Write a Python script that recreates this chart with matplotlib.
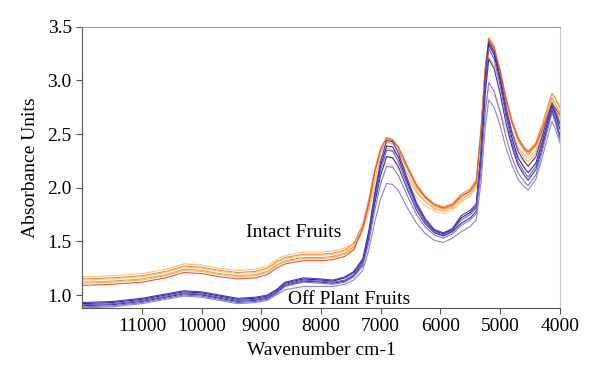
import matplotlib
matplotlib.use("Agg")
import matplotlib.pyplot as plt

plt.rcParams['font.family'] = ['Liberation Serif', 'DejaVu Serif']

# wavenumber grid (cm-1) shared by all spectra
wavenumber = [12000, 11500, 11000, 10600, 10300, 10000, 9700, 9400, 9100, 8900,
              8750, 8600, 8300, 8000, 7800, 7600, 7450, 7300, 7200, 7100,
              7000, 6900, 6800, 6700, 6550, 6400, 6250, 6100, 5950, 5800,
              5650, 5500, 5400, 5320, 5250, 5190, 5100, 5000, 4900, 4800,
              4700, 4600, 4530, 4400, 4300, 4200, 4130, 4070, 4000]

# intact fruits (orange / red)
intact_1 = [1.17, 1.18, 1.20, 1.24, 1.29, 1.28, 1.25, 1.23, 1.24, 1.27,
            1.33, 1.37, 1.40, 1.40, 1.41, 1.44, 1.48, 1.63, 1.82, 2.05,
            2.21, 2.29, 2.27, 2.22, 2.09, 1.95, 1.87, 1.81, 1.79, 1.82,
            1.90, 1.95, 2.03, 2.46, 2.97, 3.22, 3.14, 2.95, 2.72, 2.53,
            2.38, 2.31, 2.27, 2.35, 2.52, 2.70, 2.82, 2.74, 2.62]
intact_2 = [1.15, 1.16, 1.18, 1.22, 1.27, 1.26, 1.23, 1.21, 1.22, 1.25,
            1.31, 1.35, 1.38, 1.38, 1.39, 1.42, 1.48, 1.66, 1.89, 2.17,
            2.37, 2.47, 2.45, 2.38, 2.20, 2.03, 1.92, 1.85, 1.82, 1.85,
            1.94, 1.99, 2.07, 2.55, 3.12, 3.40, 3.32, 3.10, 2.84, 2.63,
            2.47, 2.38, 2.34, 2.42, 2.58, 2.76, 2.88, 2.83, 2.75]
intact_3 = [1.14, 1.15, 1.17, 1.21, 1.26, 1.25, 1.22, 1.20, 1.21, 1.24,
            1.30, 1.34, 1.37, 1.37, 1.38, 1.41, 1.45, 1.60, 1.78, 2.00,
            2.15, 2.23, 2.21, 2.17, 2.04, 1.91, 1.83, 1.78, 1.76, 1.79,
            1.87, 1.92, 2.00, 2.32, 2.72, 2.92, 2.86, 2.72, 2.54, 2.40,
            2.30, 2.24, 2.21, 2.29, 2.46, 2.64, 2.76, 2.69, 2.58]
intact_4 = [1.12, 1.13, 1.15, 1.19, 1.24, 1.23, 1.20, 1.18, 1.19, 1.22,
            1.28, 1.32, 1.35, 1.35, 1.36, 1.39, 1.45, 1.63, 1.86, 2.14,
            2.33, 2.43, 2.41, 2.34, 2.17, 2.00, 1.90, 1.83, 1.80, 1.83,
            1.92, 1.97, 2.05, 2.53, 3.09, 3.37, 3.29, 3.07, 2.81, 2.60,
            2.44, 2.35, 2.31, 2.39, 2.55, 2.72, 2.84, 2.78, 2.70]
intact_5 = [1.11, 1.12, 1.14, 1.18, 1.23, 1.22, 1.19, 1.17, 1.18, 1.21,
            1.27, 1.31, 1.34, 1.34, 1.35, 1.38, 1.43, 1.61, 1.82, 2.09,
            2.28, 2.37, 2.35, 2.29, 2.13, 1.97, 1.87, 1.80, 1.78, 1.81,
            1.89, 1.94, 2.02, 2.50, 3.05, 3.33, 3.24, 3.02, 2.75, 2.53,
            2.37, 2.28, 2.24, 2.32, 2.49, 2.67, 2.79, 2.74, 2.66]
intact_6 = [1.09, 1.10, 1.12, 1.16, 1.21, 1.20, 1.17, 1.15, 1.16, 1.19,
            1.25, 1.29, 1.32, 1.32, 1.33, 1.36, 1.42, 1.62, 1.85, 2.15,
            2.36, 2.46, 2.44, 2.37, 2.19, 2.02, 1.91, 1.84, 1.81, 1.84,
            1.92, 1.97, 2.05, 2.53, 3.10, 3.38, 3.30, 3.09, 2.82, 2.61,
            2.46, 2.37, 2.33, 2.40, 2.53, 2.68, 2.78, 2.74, 2.68]

# off plant fruits (blue / purple)
off_1 = [0.93, 0.94, 0.97, 1.01, 1.04, 1.03, 1.00, 0.97, 0.98, 1.00,
         1.05, 1.12, 1.16, 1.15, 1.14, 1.17, 1.22, 1.34, 1.60, 1.95,
         2.25, 2.44, 2.43, 2.32, 2.08, 1.86, 1.71, 1.61, 1.58, 1.62,
         1.74, 1.79, 1.85, 2.34, 3.01, 3.36, 3.27, 3.04, 2.75, 2.51,
         2.34, 2.25, 2.20, 2.29, 2.47, 2.66, 2.79, 2.71, 2.60]
off_2 = [0.92, 0.93, 0.96, 1.00, 1.03, 1.02, 0.99, 0.96, 0.97, 0.99,
         1.04, 1.11, 1.15, 1.14, 1.13, 1.16, 1.21, 1.32, 1.57, 1.92,
         2.21, 2.39, 2.38, 2.28, 2.05, 1.84, 1.69, 1.60, 1.57, 1.61,
         1.72, 1.77, 1.83, 2.32, 2.99, 3.34, 3.24, 3.00, 2.70, 2.46,
         2.28, 2.19, 2.14, 2.23, 2.42, 2.62, 2.76, 2.68, 2.55]
off_3 = [0.91, 0.92, 0.95, 0.99, 1.02, 1.01, 0.98, 0.95, 0.96, 0.98,
         1.03, 1.10, 1.14, 1.13, 1.12, 1.14, 1.19, 1.31, 1.55, 1.89,
         2.17, 2.35, 2.34, 2.24, 2.02, 1.82, 1.68, 1.59, 1.56, 1.60,
         1.70, 1.75, 1.81, 2.29, 2.96, 3.30, 3.20, 2.96, 2.66, 2.42,
         2.24, 2.15, 2.10, 2.20, 2.39, 2.60, 2.74, 2.64, 2.50]
off_4 = [0.90, 0.91, 0.94, 0.98, 1.01, 1.00, 0.97, 0.94, 0.95, 0.97,
         1.02, 1.09, 1.13, 1.12, 1.11, 1.13, 1.18, 1.29, 1.53, 1.85,
         2.12, 2.29, 2.28, 2.19, 1.98, 1.79, 1.66, 1.58, 1.55, 1.59,
         1.67, 1.72, 1.78, 2.24, 2.87, 3.20, 3.11, 2.88, 2.60, 2.38,
         2.21, 2.12, 2.07, 2.17, 2.36, 2.58, 2.72, 2.62, 2.47]
off_5 = [0.89, 0.90, 0.93, 0.97, 1.00, 0.99, 0.96, 0.93, 0.94, 0.96,
         1.01, 1.08, 1.12, 1.11, 1.10, 1.12, 1.17, 1.27, 1.49, 1.79,
         2.04, 2.20, 2.19, 2.11, 1.92, 1.75, 1.63, 1.56, 1.53, 1.57,
         1.65, 1.70, 1.76, 2.15, 2.70, 2.98, 2.90, 2.71, 2.47, 2.28,
         2.14, 2.06, 2.02, 2.12, 2.33, 2.55, 2.70, 2.60, 2.45]
off_6 = [0.88, 0.89, 0.92, 0.96, 0.99, 0.98, 0.95, 0.92, 0.93, 0.95,
         1.00, 1.05, 1.08, 1.08, 1.08, 1.10, 1.14, 1.23, 1.42, 1.68,
         1.90, 2.04, 2.03, 1.97, 1.81, 1.67, 1.57, 1.51, 1.49, 1.53,
         1.59, 1.64, 1.70, 2.05, 2.56, 2.82, 2.75, 2.58, 2.37, 2.21,
         2.08, 2.01, 1.98, 2.08, 2.27, 2.48, 2.62, 2.54, 2.42]

intact = [intact_1, intact_2, intact_3, intact_4, intact_5, intact_6]
intact_colors = ['#f7c27a', '#ee8a2c', '#f6c98e', '#f0a04b', '#f4b463', '#e4583c']
off_plant = [off_1, off_2, off_3, off_4, off_5, off_6]
off_colors = ['#4a3fb5', '#2f259a', '#6a62c8', '#3d33a8', '#7d76d0', '#8a84d8']

fig, ax = plt.subplots(figsize=(6, 3.83), dpi=100)
fig.subplots_adjust(left=0.137, right=0.933, top=0.93, bottom=0.196)

for spec, col in zip(intact, intact_colors):
    ax.plot(wavenumber, spec, color=col, lw=0.8)
for spec, col in zip(off_plant, off_colors):
    ax.plot(wavenumber, spec, color=col, lw=0.8)

ax.set_xlim(12000, 4000)
ax.set_ylim(0.88, 3.5)
ax.set_xticks([11000, 10000, 9000, 8000, 7000, 6000, 5000, 4000])
ax.set_yticks([1.0, 1.5, 2.0, 2.5, 3.0, 3.5])
ax.set_yticklabels(['1.0', '1.5', '2.0', '2.5', '3.0', '3.5'])
ax.tick_params(labelsize=14, length=4, width=0.8, color='#555555', direction='out')

ax.spines['left'].set_color('#555555')
ax.spines['bottom'].set_color('#555555')
ax.spines['top'].set_color('#999999')
ax.spines['right'].set_color('#c8c8c8')

ax.text(9260, 1.58, 'Intact Fruits', fontsize=14, va='center', ha='left')
ax.text(8560, 0.96, 'Off Plant Fruits', fontsize=14, va='center', ha='left')

ax.set_xlabel('Wavenumber cm-1', fontsize=14, labelpad=5)
ax.set_ylabel('Absorbance Units', fontsize=14, labelpad=6)

fig.savefig('out.png', dpi=100)
